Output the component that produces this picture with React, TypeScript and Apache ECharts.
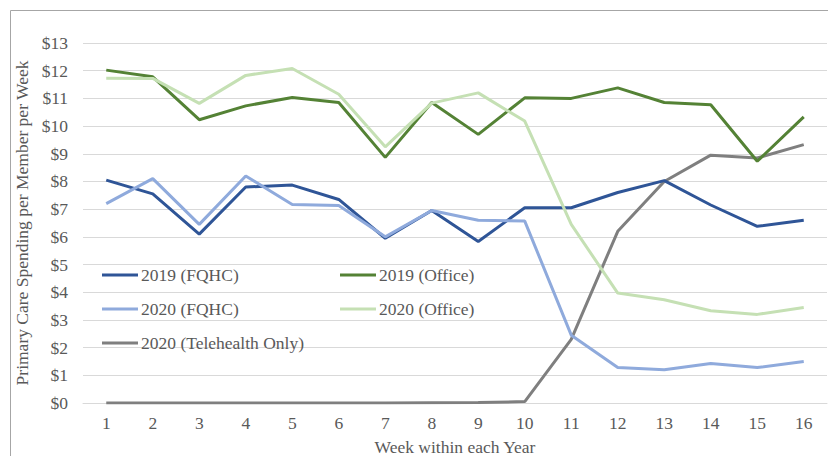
import React, { useEffect, useRef } from "react";
import * as echarts from "echarts";

const weeks = ["1","2","3","4","5","6","7","8","9","10","11","12","13","14","15","16"];
const fqhc2019 = [8.05, 7.55, 6.1, 7.8, 7.87, 7.35, 5.95, 6.95, 5.83, 7.05, 7.05, 7.6, 8.03, 7.15, 6.38, 6.6];
const office2019 = [12.02, 11.78, 10.23, 10.73, 11.03, 10.85, 8.87, 10.85, 9.7, 11.02, 11.0, 11.38, 10.85, 10.77, 8.73, 10.33];
const fqhc2020 = [7.2, 8.1, 6.45, 8.2, 7.17, 7.13, 6.0, 6.95, 6.6, 6.57, 2.45, 1.28, 1.2, 1.43, 1.28, 1.5];
const office2020 = [11.73, 11.72, 10.82, 11.83, 12.08, 11.15, 9.25, 10.83, 11.2, 10.18, 6.45, 3.97, 3.73, 3.33, 3.2, 3.45];
const tele2020 = [0, 0, 0, 0, 0, 0, 0, 0.01, 0.02, 0.05, 2.3, 6.2, 8.0, 8.95, 8.85, 9.33];

const seriesNames = ["2019 (FQHC)", "2019 (Office)", "2020 (FQHC)", "2020 (Office)", "2020 (Telehealth Only)"];
const seriesData = [fqhc2019, office2019, fqhc2020, office2020, tele2020];
const colors = ["#2F5597", "#548235", "#8FAADC", "#C5E0B4", "#7F7F7F"];
const legendPos = [
  [102, 266],
  [340, 266],
  [102, 300],
  [340, 300],
  [102, 334],
];

export default function App() {
  const ref = useRef<HTMLDivElement>(null);
  useEffect(() => {
    if (!ref.current) return;
    const chart = echarts.init(ref.current, null, { renderer: "svg" });
    const font = "Liberation Serif";
    const fs = 17.5;
    chart.setOption({
      animation: false,
      textStyle: { fontFamily: font },
      graphic: [
        {
          type: "rect",
          id: "border",
          shape: { x: 10.5, y: 10.5, width: 840, height: 470 },
          style: { fill: "none", stroke: "#A6A6A6", lineWidth: 1 },
          silent: true,
        },
      ],
      legend: seriesNames.map((n, i) => ({
        data: [n],
        left: legendPos[i][0],
        top: legendPos[i][1],
        icon: "rect",
        itemWidth: 36,
        itemHeight: 3,
        padding: 0,
        textStyle: { fontFamily: font, fontSize: fs, color: "#595959", padding: [0, 0, 0, -2] },
      })),
      grid: { left: 83, right: 1, top: 43, bottom: 53, containLabel: false, outerBoundsMode: "none" },
      xAxis: {
        type: "category",
        data: weeks,
        boundaryGap: true,
        axisLine: { show: true, lineStyle: { color: "#D9D9D9", width: 1 } },
        axisTick: { show: false },
        axisLabel: { color: "#595959", fontSize: fs, fontFamily: font, margin: 11 },
        name: "Week within each Year",
        nameLocation: "middle",
        nameGap: 35,
        nameTextStyle: { color: "#595959", fontSize: fs, fontFamily: font },
      },
      yAxis: {
        type: "value",
        min: 0,
        max: 13,
        interval: 1,
        axisLine: { show: false },
        axisTick: { show: false },
        splitLine: { lineStyle: { color: "#D9D9D9", width: 1 } },
        axisLabel: { color: "#595959", fontSize: fs, fontFamily: font, margin: 15, formatter: (v: number) => "$" + v },
        name: "Primary Care Spending per Member per Week",
        nameLocation: "middle",
        nameGap: 47,
        nameTextStyle: { color: "#595959", fontSize: fs, fontFamily: font },
      },
      series: seriesNames.map((n, i) => ({
        name: n,
        type: "line",
        data: seriesData[i],
        symbol: "none",
        lineStyle: { color: colors[i], width: 3 },
        itemStyle: { color: colors[i] },
        z: i === 4 ? 1 : 2 + i,
      })),
    });
    return () => chart.dispose();
  }, []);
  return <div ref={ref} style={{ position: "absolute", left: 0, top: 0, width: 828, height: 456, background: "#fff" }} />;
}
